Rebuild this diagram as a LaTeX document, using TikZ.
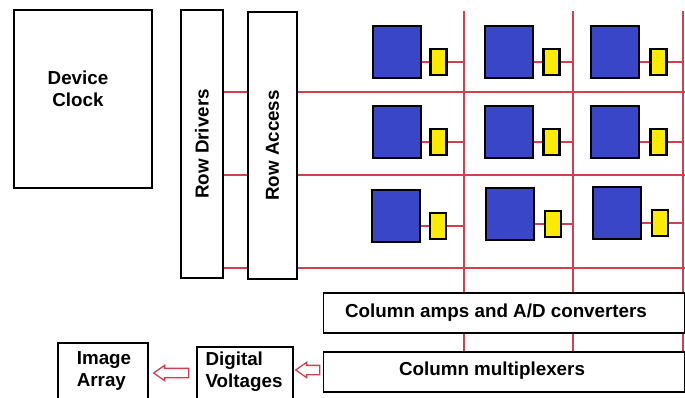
\documentclass[tikz,border=0pt]{standalone}
\usepackage{fontspec}
\setmainfont{Liberation Sans}
\usetikzlibrary{positioning,shapes.arrows}
\definecolor{wirered}{RGB}{208,64,78}
\definecolor{pixblue}{RGB}{58,70,200}
\definecolor{ampyellow}{RGB}{250,235,0}

\begin{document}
\begin{tikzpicture}[x=1pt,y=-1pt,font=\fontsize{18.8}{22}\selectfont\bfseries,
  box/.style={draw,line width=1.7pt,inner sep=0pt},
  pix/.style={draw,fill=pixblue,line width=2.4pt,minimum width=48pt,minimum height=52pt,inner sep=0pt},
  amp/.style={draw,fill=ampyellow,line width=2.4pt,minimum width=16pt,minimum height=26pt,inner sep=0pt},
  wire/.style={wirered,line width=1.6pt},
  hollow/.style={single arrow,draw=wirered,fill=white,line width=1.3pt,shape border rotate=180,
    single arrow head extend=3pt,single arrow tip angle=70,inner xsep=0pt,inner ysep=4pt}]
  \clip (0,0) rectangle (685,398);
  \fill[white] (0,0) rectangle (685,398);
  % left blocks
  \node[box,minimum width=138pt,minimum height=178pt] (clk) at (83,99) {};
  \node[align=center] (clkt) at (78,89) {Device\\Clock};
  \node[box,rotate=90,minimum width=268pt,minimum height=42pt] (drv) at (202,144) {Row Drivers};
  \node[box,rotate=90,minimum width=267pt,minimum height=49pt] (acc) at (272.5,145.5) {Row Access};
  % column blocks
  \node[box,minimum width=361pt,minimum height=40pt] (cad) at (504,313) {};
  \node (cadt) at (496,313) {Column amps and A/D converters};
  \node[box,minimum width=361pt,minimum height=40pt] (mux) at (504,372) {};
  \node (muxt) at (492,371) {Column multiplexers};
  \node[box,minimum width=96pt,minimum height=58pt] (dv) at (245,376) {};
  \node[align=left] (dvt) at (244,372) {Digital\\Voltages};
  \node[box,minimum width=90pt,minimum height=62pt] (img) at (103,374) {};
  \node[align=left] (imgt) at (104,371) {Image\\Array};
  \node[hollow,minimum height=24pt] (ar1) at (311,370) {};
  \node[hollow,minimum height=35pt] (ar2) at (174.5,373) {};
  % row and column wires
  \coordinate (r1) at (690,92); \coordinate (r2) at (690,175); \coordinate (r3) at (690,268);
  \coordinate (c1) at (464,11); \coordinate (c2) at (573,11); \coordinate (c3) at (683,11);
  \draw[wire] (drv.south |- r1) -- (acc.north |- r1) (acc.south |- r1) -- (r1);
  \draw[wire] (drv.south |- r2) -- (acc.north |- r2) (acc.south |- r2) -- (r2);
  \draw[wire] (drv.south |- r3) -- (acc.north |- r3) (acc.south |- r3) -- (r3);
  \draw[wire] (c1) -- (c1 |- cad.north) (c1 |- cad.south) -- (c1 |- mux.north);
  \draw[wire] (c2) -- (c2 |- cad.north) (c2 |- cad.south) -- (c2 |- mux.north);
  \draw[wire] (c3) -- (c3 |- cad.north) (c3 |- cad.south) -- (c3 |- mux.north);
  % pixels
  \node[pix] (p11) at (397,52) {}; \node[amp] (a11) at (438.5,62) {};
  \node[pix] (p12) at (509,52) {}; \node[amp] (a12) at (551.5,62) {};
  \node[pix] (p13) at (615,52) {}; \node[amp] (a13) at (658.5,62) {};
  \node[pix] (p21) at (397,132) {}; \node[amp] (a21) at (438.5,142) {};
  \node[pix] (p22) at (509,132) {}; \node[amp] (a22) at (551.5,142) {};
  \node[pix] (p23) at (615,132) {}; \node[amp] (a23) at (658.5,142) {};
  \node[pix] (p31) at (396,216) {}; \node[amp] (a31) at (438,226) {};
  \node[pix] (p32) at (510,214) {}; \node[amp] (a32) at (553,224) {};
  \node[pix] (p33) at (617,213) {}; \node[amp] (a33) at (660,223) {};
  \draw[wire] (p11.east |- a11) -- (a11) -- (c1 |- a11);
  \draw[wire] (p12.east |- a12) -- (a12) -- (c2 |- a12);
  \draw[wire] (p13.east |- a13) -- (a13) -- (c3 |- a13);
  \draw[wire] (p21.east |- a21) -- (a21) -- (c1 |- a21);
  \draw[wire] (p22.east |- a22) -- (a22) -- (c2 |- a22);
  \draw[wire] (p23.east |- a23) -- (a23) -- (c3 |- a23);
  \draw[wire] (p31.east |- a31) -- (a31) -- (c1 |- a31);
  \draw[wire] (p32.east |- a32) -- (a32) -- (c2 |- a32);
  \draw[wire] (p33.east |- a33) -- (a33) -- (c3 |- a33);
\end{tikzpicture}
\end{document}
